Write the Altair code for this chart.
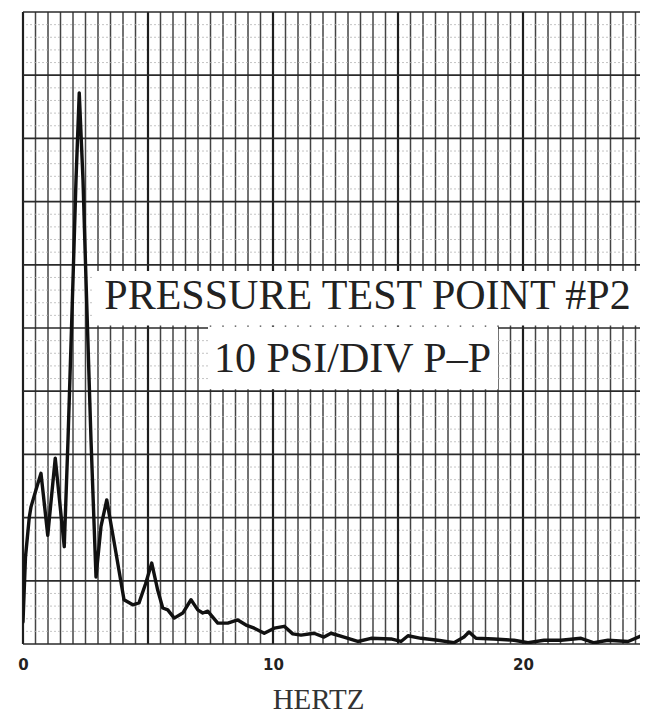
import altair as alt
import numpy as np
import pandas as pd

# ---- data ----
freq_hz = [0.0, 0.1, 0.25, 0.32, 0.52, 0.72, 0.99, 1.29, 1.65, 1.8, 2.0, 2.12, 2.25,
           2.4, 2.52, 2.72, 2.92, 3.12, 3.35, 3.72, 4.04, 4.39, 4.64, 4.9, 5.15, 5.39,
           5.59, 5.79, 6.05, 6.39, 6.72, 6.99, 7.19, 7.39, 7.79, 8.19, 8.59, 8.92, 9.25,
           9.65, 10.05, 10.45, 10.79, 11.12, 11.64, 12.04, 12.32, 12.84, 13.39, 13.92,
           14.72, 15.12, 15.4, 15.92, 16.6, 17.24, 17.64, 17.84, 18.12, 18.84, 19.64,
           20.2, 20.84, 21.52, 22.32, 22.84, 23.4, 24.2, 24.8, 25.0]
amplitude_div = [0.35, 1.38, 2.0, 2.17, 2.44, 2.7, 1.72, 2.94, 1.54, 3.23, 5.76, 7.34, 8.72,
                 7.34, 5.76, 3.23, 1.06, 1.86, 2.28, 1.44, 0.70, 0.62, 0.65, 0.95, 1.28, 0.85,
                 0.57, 0.54, 0.41, 0.49, 0.70, 0.54, 0.49, 0.52, 0.33, 0.33, 0.38, 0.30, 0.25,
                 0.17, 0.25, 0.28, 0.16, 0.14, 0.17, 0.11, 0.17, 0.11, 0.04, 0.09,
                 0.08, 0.04, 0.13, 0.09, 0.06, 0.02, 0.11, 0.19, 0.09, 0.08, 0.06,
                 0.02, 0.06, 0.06, 0.09, 0.02, 0.06, 0.04, 0.14, 0.13]
x_tick_labels = [0, 10, 20]
annotation_lines = ["PRESSURE TEST POINT #P2", "10 PSI/DIV P\u2013P"]
x_title = "HERTZ"

PLOT_W = 617
X_DOMAIN = [0, PLOT_W / 25.0]   # 25 px per Hz; the right edge is cropped as in the scan
Y_DOMAIN = [0, 10]

xs = alt.Scale(domain=X_DOMAIN, nice=False, zero=False)
ys = alt.Scale(domain=Y_DOMAIN, nice=False, zero=False)

x_axis = alt.Axis(values=x_tick_labels, grid=False, ticks=False, domain=False,
                  labelFlush=False, labelFont="DejaVu Sans",
                  labelFontWeight="bold", labelFontSize=15, labelColor="#222",
                  labelPadding=13,
                  title=x_title, titleFont="Liberation Serif",
                  titleFontSize=29, titleFontWeight="normal", titleColor="#333",
                  titleX=295, titleY=64, titleAlign="center",
                  titleBaseline="alphabetic")

trace = pd.DataFrame({"freq": freq_hz, "amp": amplitude_div})

# grid-paper lines
v_minor = pd.DataFrame({"x": np.arange(0, 25.001, 0.5)})
v_major = pd.DataFrame({"x": np.arange(0, 25.001, 5.0)})
h_major = pd.DataFrame({"y": np.arange(0, 10.001, 1.0)})
h_minor_vals = [v for v in np.arange(0, 10.001, 0.2) if abs(v - round(v)) > 1e-6]
h_minor = pd.DataFrame({"y": h_minor_vals})

grid_v_minor = alt.Chart(v_minor).mark_rule(color="#444", strokeWidth=1.5).encode(
    x=alt.X("x:Q", scale=xs, axis=x_axis))
grid_v_major = alt.Chart(v_major).mark_rule(color="#1e1e1e", strokeWidth=2.2).encode(
    x=alt.X("x:Q", scale=xs, axis=x_axis))
grid_h_minor = alt.Chart(h_minor).mark_rule(color="#b5b5b5", strokeWidth=0.8,
                                            strokeDash=[2, 2]).encode(
    y=alt.Y("y:Q", scale=ys, axis=None))
grid_h_major = alt.Chart(h_major).mark_rule(color="#2a2a2a", strokeWidth=1.7).encode(
    y=alt.Y("y:Q", scale=ys, axis=None))

# white label boxes
boxes = pd.DataFrame({"x": [2.76, 7.4], "x2": [24.76, 19.0],
                      "y": [5.04, 4.03], "y2": [5.9, 5.02]})
box_layer = alt.Chart(boxes).mark_rect(color="white").encode(
    x=alt.X("x:Q", scale=xs, axis=x_axis), x2="x2:Q",
    y=alt.Y("y:Q", scale=ys, axis=None), y2="y2:Q")

ann = pd.DataFrame({"text": annotation_lines, "x": [13.78, 13.18], "y": [5.30, 4.30]})
text_layer = alt.Chart(ann).mark_text(font="Liberation Serif", fontSize=42,
                                      color="#222", align="center",
                                      baseline="alphabetic").encode(
    x=alt.X("x:Q", scale=xs, axis=x_axis),
    y=alt.Y("y:Q", scale=ys, axis=None),
    text="text:N")

line_layer = alt.Chart(trace).mark_line(color="#111", strokeWidth=3.4,
                                        strokeJoin="round", strokeCap="round",
                                        clip=True).encode(
    x=alt.X("freq:Q", scale=xs, axis=x_axis),
    y=alt.Y("amp:Q", scale=ys, axis=None))

chart = alt.layer(grid_v_minor, grid_h_minor, grid_v_major, grid_h_major,
                  box_layer, text_layer, line_layer).properties(
    width=PLOT_W, height=632,
    padding={"left": 15, "top": 4, "right": 0, "bottom": 72},
    autosize=alt.AutoSizeParams(type="none"),
    background="white",
).configure_view(strokeWidth=0)

chart.save("out.html", embed_options={"renderer": "svg", "actions": False})
